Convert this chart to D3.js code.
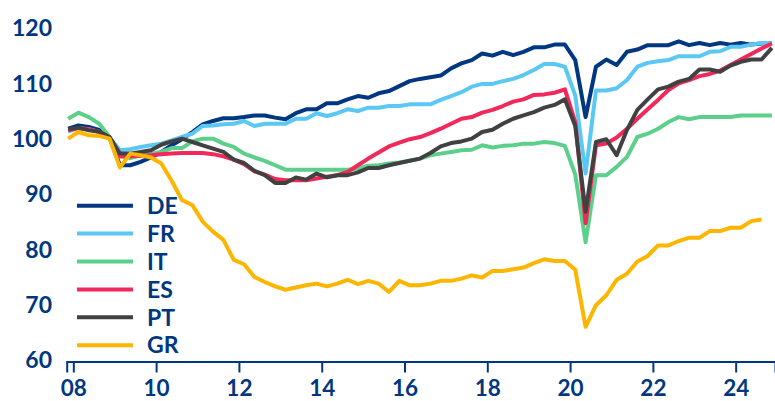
<!DOCTYPE html>
<html>
<head>
<meta charset="utf-8">
<script src="https://cdn.jsdelivr.net/npm/d3@7"></script>
<style>
  body { margin: 0; background: #fff; }
  svg text { font-family: Lato, "Noto Sans", sans-serif; font-weight: 700; fill: #003781; }
</style>
</head>
<body>
<svg id="chart" width="775" height="401"></svg>
<script>
// quarterly index, first point 2007 Q4, last 2024 Q4 (GR ends 2024 Q3)
var quarters = [];
for (var yr = 2007; yr <= 2024; yr++) {
  for (var q = 1; q <= 4; q++) {
    if (yr === 2007 && q < 4) continue;
    quarters.push(yr + 'Q' + q);
  }
}

var DE = [101.8,
  102.4, 102.1, 101.6, 100.2,  95.2, 95.2, 95.8, 96.6,  97.6, 98.8, 99.9, 101.2,
  102.6, 103.2, 103.7, 103.7,  103.9, 104.2, 104.2, 103.8,  103.5, 104.6, 105.3, 105.3,
  106.4, 106.4, 107.1, 107.7,  107.4, 108.2, 108.6, 109.5,  110.4, 110.8, 111.1, 111.4,
  112.7, 113.6, 114.2, 115.4,  115.0, 115.7, 115.1, 115.7,  116.5, 116.5, 117.0, 117.0,
  114.2, 103.9, 113.0, 114.3,  113.3, 115.7, 116.1, 116.9,  116.9, 116.9, 117.6, 116.9,
  117.3, 116.9, 117.3, 117.0,  117.3, 117.0, 117.2, 117.3];
var FR = [101.3,
  101.9, 101.7, 101.2, 100.2,  97.9, 98.1, 98.5, 98.8,  99.1, 99.7, 100.3, 100.9,
  102.3, 102.4, 102.6, 102.7,  103.2, 102.3, 102.7, 102.7,  102.7, 103.6, 103.6, 104.6,
  104.1, 104.6, 105.3, 105.0,  105.6, 105.6, 105.9, 105.9,  106.2, 106.2, 106.2, 107.0,
  107.7, 108.4, 109.4, 109.9,  109.9, 110.4, 110.8, 111.5,  112.4, 113.5, 113.5, 113.0,
  107.8, 93.7, 108.7, 108.7,  109.1, 110.6, 113.0, 113.7,  114.0, 114.2, 114.9, 114.9,
  114.9, 115.7, 115.8, 116.6,  116.6, 117.0, 117.3, 117.3];
var IT = [103.6,
  104.7, 103.9, 102.7, 100.3,  96.8, 96.5, 97.0, 97.3,  97.6, 98.3, 98.3, 99.5,
  100.0, 100.0, 99.1, 98.5,  97.3, 96.6, 96.0, 95.2,  94.4, 94.4, 94.4, 94.4,
  94.4, 94.4, 94.4, 94.6,  95.1, 95.2, 95.5, 95.7,  96.0, 96.4, 97.0, 97.3,
  97.6, 97.9, 98.0, 98.8,  98.4, 98.7, 98.8, 99.1,  99.1, 99.4, 99.2, 98.7,
  93.5, 81.3, 93.4, 93.4,  94.9, 96.7, 100.3, 100.9,  101.8, 103.0, 103.9, 103.5,
  103.9, 103.9, 103.9, 103.9,  104.2, 104.2, 104.2, 104.2];
var ES = [101.5,
  101.9, 101.7, 101.2, 100.2,  96.8, 96.8, 96.9, 97.0,  97.2, 97.3, 97.4, 97.4,
  97.4, 97.2, 96.8, 96.2,  95.4, 94.1, 93.5, 92.7,  92.5, 92.5, 92.5, 92.8,
  93.1, 93.4, 94.0, 95.2,  96.4, 97.5, 98.6, 99.3,  99.9, 100.3, 101.0, 101.8,
  102.7, 103.6, 103.9, 104.7,  105.2, 105.9, 106.7, 107.1,  107.9, 108.0, 108.3, 108.9,
  103.0, 84.7, 98.8, 99.1,  100.2, 101.8, 103.6, 105.3,  107.0, 108.8, 110.0, 110.6,
  111.3, 111.7, 112.3, 113.3,  114.3, 115.3, 116.3, 117.2];
var PT = [101.7,
  102.0, 101.5, 101.3, 100.3,  97.3, 97.3, 97.6, 97.9,  98.9, 99.5, 100.0, 99.4,
  98.8, 98.2, 97.6, 96.2,  95.6, 94.2, 93.4, 92.0,  92.0, 93.0, 92.6, 93.7,
  93.0, 93.4, 93.4, 93.9,  94.7, 94.7, 95.2, 95.6,  96.0, 96.4, 97.4, 98.6,
  99.2, 99.5, 100.0, 101.2,  101.6, 102.7, 103.6, 104.2,  104.8, 105.6, 106.1, 107.1,
  102.3, 86.8, 99.4, 99.9,  97.0, 101.6, 105.2, 107.1,  108.9, 109.4, 110.3, 110.8,
  112.5, 112.5, 112.1, 113.2,  113.9, 114.3, 114.3, 116.4];
var GR = [100.0,
  101.2, 100.6, 100.5, 100.0,  94.8, 97.3, 97.0, 96.6,  95.5, 92.4, 88.9, 88.0,
  85.0, 83.2, 81.7, 78.1,  77.3, 75.0, 74.1, 73.3,  72.7, 73.1, 73.5, 73.8,
  73.3, 73.8, 74.5, 73.7,  74.3, 73.8, 72.3, 74.3,  73.5, 73.5, 73.8, 74.3,
  74.3, 74.7, 75.3, 74.9,  76.1, 76.1, 76.4, 76.7,  77.5, 78.2, 77.9, 77.9,
  76.3, 66.0, 69.9, 71.7,  74.5, 75.6, 77.8, 78.8,  80.7, 80.7, 81.5, 82.1,
  82.1, 83.3, 83.3, 83.9,  83.9, 85.1, 85.4];

var seriesNames = ['DE', 'FR', 'IT', 'ES', 'PT', 'GR'];
var seriesValues = [DE, FR, IT, ES, PT, GR];
var seriesColors = ['#003781', '#5bc8f4', '#5ccf8a', '#f2285a', '#414141', '#fdb600'];

var yTicks = [60, 70, 80, 90, 100, 110, 120];
var xTicks = [2008, 2010, 2012, 2014, 2016, 2018, 2020, 2022, 2024];

// quarter label -> mid-quarter decimal year
function qTime(s) {
  return +s.slice(0, 4) + (+s.slice(5) - 1) * 0.25 + 0.125;
}

var svg = d3.select('#chart');

var xScale = d3.scaleLinear()
  .domain([2007.84, 2024.95])
  .range([66.7, 775]);

var yScale = d3.scaleLinear()
  .domain([60, 120])
  .range([360, 28]);

// y labels (no axis line in the original)
svg.append('g')
  .classed('y labels', true)
  .selectAll('text')
  .data(yTicks)
  .enter().append('text')
    .attr('x', 52)
    .attr('y', function(d) { return yScale(d); })
    .attr('dy', '0.36em')
    .attr('text-anchor', 'end')
    .style('font-size', '23px')
    .text(function(d) { return d; });

var xAxis = d3.axisBottom(xScale)
  .tickValues(xTicks)
  .tickSizeOuter(0)
  .tickSize(11)
  .tickFormat(function(d) { return String(d).slice(2); });

var xAxisEle = svg.append('g')
  .classed('x axis', true)
  .attr('transform', 'translate(0,361.5)')
  .call(xAxis);

xAxisEle.select('.domain').attr('stroke', '#003781').attr('stroke-width', 2);
xAxisEle.selectAll('.tick line').attr('stroke', '#003781').attr('stroke-width', 2);
xAxisEle.selectAll('.tick text')
  .attr('fill', '#003781')
  .attr('y', 34.5)
  .attr('dy', 0)
  .style('font-family', 'Lato, "Noto Sans", sans-serif')
  .style('font-weight', 700)
  .style('font-size', '22.5px');

var line = d3.line()
  .x(function(d, i) { return xScale(qTime(quarters[i])); })
  .y(function(d) { return yScale(d); });

var lineHolder = svg.append('g').classed('lines', true);

lineHolder.selectAll('path')
    .data(seriesValues)
  .enter().append('path')
    .attr('fill', 'none')
    .attr('stroke', function(d, i) { return seriesColors[i]; })
    .attr('stroke-width', 4)
    .attr('stroke-linejoin', 'round')
    .attr('d', line);

// legend
var legend = svg.append('g').classed('legend', true);
var rows = legend.selectAll('g')
    .data(seriesNames)
  .enter().append('g')
    .attr('transform', function(d, i) { return 'translate(0,' + (205.7 + i * 27.9) + ')'; });

rows.append('line')
  .attr('x1', 77)
  .attr('x2', 133)
  .attr('stroke', function(d, i) { return seriesColors[i]; })
  .attr('stroke-width', 4);

rows.append('text')
  .attr('x', 147)
  .attr('dy', '0.36em')
  .style('font-size', '23px')
  .text(function(d) { return d; });
</script>
</body>
</html>
